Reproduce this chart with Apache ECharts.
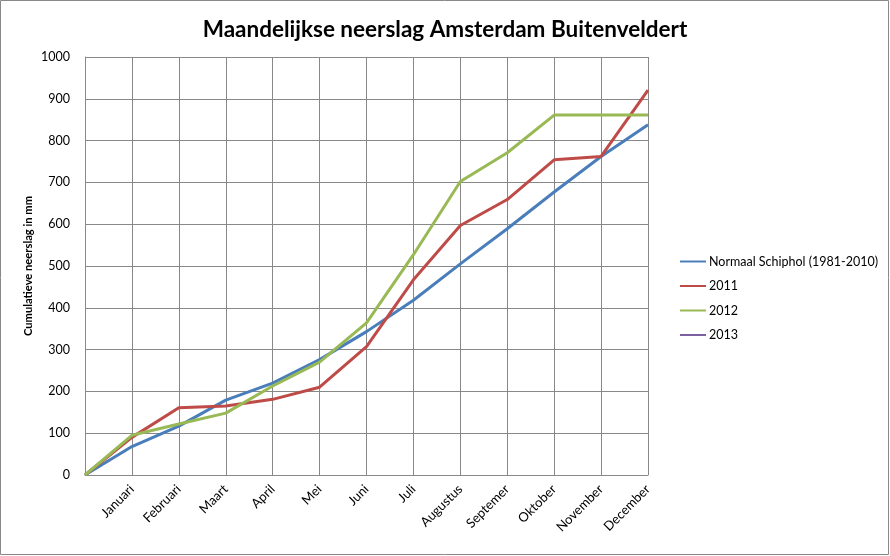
<!DOCTYPE html>
<html>
<head>
<meta charset="utf-8">
<script src="https://cdn.jsdelivr.net/npm/echarts@6/dist/echarts.min.js"></script>
<style>html,body{margin:0;padding:0;background:#fff}#c{width:890px;height:556px}</style>
</head>
<body>
<div id="c"></div>
<script>
const categories = ['', 'Januari', 'Februari', 'Maart', 'April', 'Mei', 'Juni', 'Juli', 'Augustus', 'Septemer', 'Oktober', 'November', 'December'];
const normaal = [0, 68, 117, 179, 220, 276, 343, 418, 505, 589, 677, 762, 838];
const y2011 = [0, 90, 161, 165, 181, 210, 307, 467, 597, 659, 754, 762, 921];
const y2012 = [0, 95, 122, 148, 213, 270, 364, 527, 702, 771, 861, 861, 861];
const y2013 = [];
const yTicks = [0, 100, 200, 300, 400, 500, 600, 700, 800, 900, 1000];

const font = 'Lato, "Open Sans", sans-serif';
const chart = echarts.init(document.getElementById('c'));
const mk = (name, data, color) => ({
  name, type: 'line', data, symbol: 'none', smooth: false,
  lineStyle: { color, width: 3 }, itemStyle: { color }, animation: false
});
chart.setOption({
  animation: false,
  textStyle: { fontFamily: font },
  title: {
    text: 'Maandelijkse neerslag Amsterdam Buitenveldert',
    left: 'center', top: 13,
    textStyle: { fontFamily: font, fontSize: 22.5, fontWeight: 'bold', color: '#000' }
  },
  graphic: [{
    type: 'rect', shape: { x: 0.5, y: 0.5, width: 888, height: 554 },
    style: { fill: 'none', stroke: '#888', lineWidth: 1 }, silent: true
  }],
  legend: {
    orient: 'vertical', left: 675, top: 250, itemGap: 11.5,
    itemWidth: 26, itemHeight: 2, icon: 'rect',
    textStyle: { fontFamily: font, fontSize: 12.5, color: '#000', padding: [0, 0, 0, -2] },
    data: ['Normaal Schiphol (1981-2010)', '2011', '2012', '2013']
  },
  grid: { left: 85, right: 242, top: 57, bottom: 81, containLabel: false },
  xAxis: {
    type: 'category', data: categories, boundaryGap: false,
    axisLine: { lineStyle: { color: '#888' } },
    axisTick: { show: false },
    splitLine: { show: true, lineStyle: { color: '#888', width: 1 } },
    axisLabel: { rotate: 45, margin: 12, fontSize: 13, color: '#000', fontFamily: font, interval: 0 }
  },
  yAxis: {
    type: 'value', min: yTicks[0], max: yTicks[yTicks.length - 1], interval: 100,
    name: 'Cumulatieve neerslag in mm', nameLocation: 'middle', nameGap: 51, nameRotate: 90,
    nameMoveOverlap: false,
    nameTextStyle: { fontFamily: font, fontSize: 11.2, fontWeight: 'bold', color: '#000' },
    axisLine: { show: true, lineStyle: { color: '#888' } },
    axisTick: { show: false },
    splitLine: { show: true, lineStyle: { color: '#888', width: 1 } },
    axisLabel: { fontSize: 12.5, color: '#000', fontFamily: font, margin: 15, formatter: v => String(v) }
  },
  series: [
    mk('Normaal Schiphol (1981-2010)', normaal, '#4A7EBB'),
    mk('2011', y2011, '#BE4B48'),
    mk('2012', y2012, '#98B954'),
    mk('2013', y2013, '#7D60A0')
  ]
});
</script>
</body>
</html>
